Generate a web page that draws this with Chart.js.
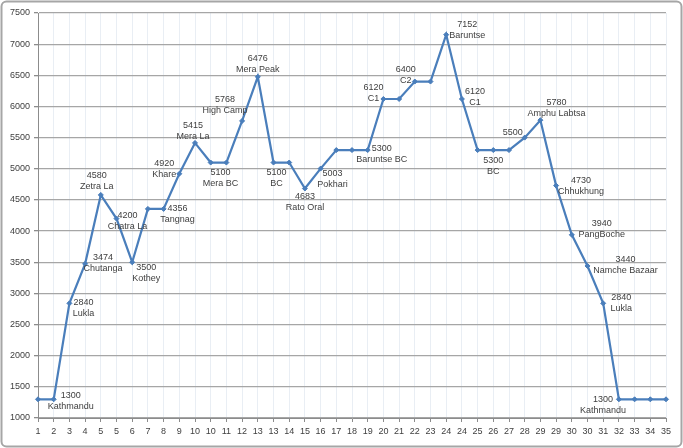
<!DOCTYPE html>
<html>
<head>
<meta charset="utf-8">
<script src="https://cdn.jsdelivr.net/npm/chart.js@4/dist/chart.umd.min.js"></script>
<style>
  html, body { margin: 0; padding: 0; background: #ffffff; }
  #wrap { position: relative; width: 683px; height: 448px; }
</style>
</head>
<body>
<div id="wrap"><canvas id="c"></canvas></div>
<script>
// ---- Data ----
const categories = ["1","2","3","4","5","5","6","7","8","9","10","10","11","12","13","13","14","15","16","17","18","19","20","21","22","23","24","24","25","26","27","28","29","29","30","30","31","32","33","34","35"];
const elevations = [1300,1300,2840,3474,4580,4200,3500,4356,4356,4920,5415,5100,5100,5768,6476,5100,5100,4683,5003,5300,5300,5300,6120,6120,6400,6400,7152,6120,5300,5300,5300,5500,5780,4730,3940,3440,2840,1300,1300,1300,1300];
const places = [null,"Kathmandu","Lukla","Chutanga","Zetra La","Chatra La","Kothey",null,"Tangnag","Khare","Mera La",null,"Mera BC","High Camp","Mera Peak","BC",null,"Rato Oral","Pokhari",null,null,"Baruntse BC","C1",null,"C2",null,"Baruntse","C1",null,"BC",null,"","Amphu Labtsa","Chhukhung","PangBoche","Namche Bazaar","Lukla","Kathmandu",null,null,null];
const yTicks = [1000,1500,2000,2500,3000,3500,4000,4500,5000,5500,6000,6500,7000,7500];

// ---- Label placement (style only) ----
const labelDx = [0,17,14,18,-4,11,14,0,14,-15,-2,0,-6,-17,0,3,0,0,12,0,0,14,-10,0,-9,0,21,13,0,0,0,-12,16,25,30,38,18,-16,0,0,0];
const labelDy = [0,-4,-1,-6,-19,-3,5,0,0,-10,-17,0,10,-21,-18,10,0,8,5,0,0,-2,-11,0,-12,0,-10,-7,0,10,0,-5,-18,-5,-11,-6,-6,0,0,0,0];

const FONT = "'Liberation Sans', Arial, sans-serif";
const LINE_COLOR = '#4a7ebb';

const frame = {
  id: 'frame',
  beforeDraw(chart) {
    const ctx = chart.ctx;
    ctx.save();
    ctx.fillStyle = '#ffffff';
    ctx.fillRect(0, 0, chart.width, chart.height);
    ctx.restore();
  },
  afterDraw(chart) {
    const ctx = chart.ctx;
    ctx.save();
    ctx.strokeStyle = '#a6a6a6';
    ctx.lineWidth = 2;
    ctx.beginPath();
    ctx.roundRect(1.5, 1.5, chart.width - 3, chart.height - 3, 5);
    ctx.stroke();
    ctx.restore();
  }
};

const dataLabels = {
  id: 'dataLabels',
  afterDatasetsDraw(chart) {
    const ctx = chart.ctx;
    const meta = chart.getDatasetMeta(0);
    ctx.save();
    ctx.font = '9px ' + FONT;
    ctx.fillStyle = '#404040';
    ctx.textAlign = 'center';
    ctx.textBaseline = 'middle';
    meta.data.forEach((pt, i) => {
      if (places[i] === null) return;
      const cx = pt.x + labelDx[i];
      const cy = pt.y + labelDy[i];
      ctx.fillText(String(elevations[i]), cx, cy);
      if (places[i]) ctx.fillText(places[i], cx, cy + 11);
    });
    ctx.restore();
  }
};

new Chart(document.getElementById('c'), {
  type: 'line',
  data: {
    labels: categories,
    datasets: [{
      data: elevations,
      borderColor: LINE_COLOR,
      backgroundColor: LINE_COLOR,
      borderWidth: 2.2,
      tension: 0,
      pointStyle: 'rectRot',
      pointRadius: 2.5,
      pointBorderWidth: 1,
      pointBackgroundColor: LINE_COLOR,
      pointBorderColor: LINE_COLOR,
      fill: false
    }]
  },
  options: {
    responsive: true,
    maintainAspectRatio: false,
    animation: false,
    devicePixelRatio: 1,
    layout: { padding: { left: 0, top: 13, right: 17, bottom: 0 } },
    plugins: { legend: { display: false }, tooltip: { enabled: false } },
    scales: {
      x: {
        type: 'category',
        offset: false,
        afterFit(scale) { scale.height = 30; },
        grid: { color: '#e9eef4', lineWidth: 1, tickColor: '#8c8c8c', tickLength: 4, drawOnChartArea: true },
        border: { color: '#8c8c8c', width: 1 },
        ticks: { autoSkip: false, maxRotation: 0, minRotation: 0, padding: 4, color: '#404040', font: { family: FONT, size: 9 } }
      },
      y: {
        min: 1000,
        max: 7500,
        afterFit(scale) { scale.width = 38; },
        afterBuildTicks(scale) { scale.ticks = yTicks.map(v => ({ value: v })); },
        grid: { color: '#a6a6a6', lineWidth: 1.3, tickColor: '#8c8c8c', tickLength: 4 },
        border: { color: '#8c8c8c', width: 1 },
        ticks: { padding: 4, color: '#404040', font: { family: FONT, size: 9 }, callback: (v) => String(v) }
      }
    }
  },
  plugins: [frame, dataLabels]
});
</script>
</body>
</html>
